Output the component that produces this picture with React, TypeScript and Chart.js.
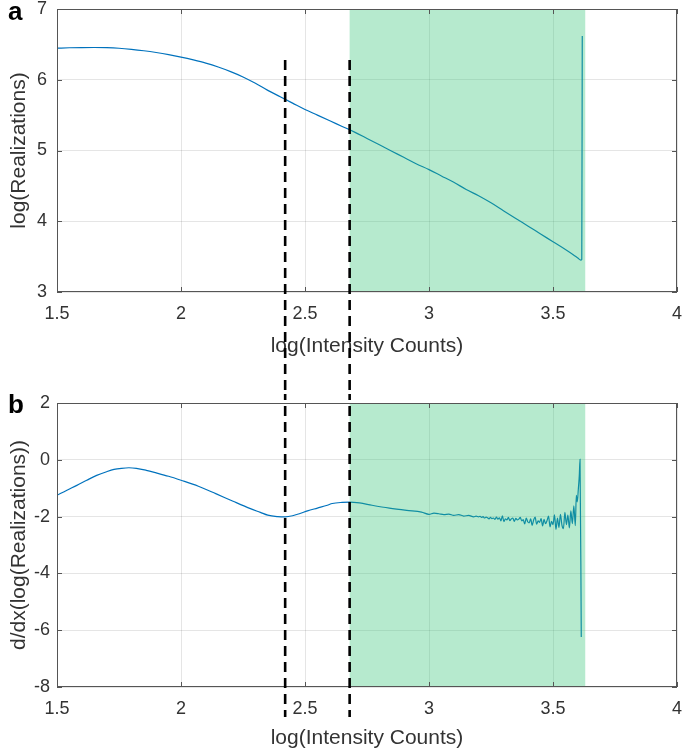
import React, { useEffect, useRef } from "react";
import { Chart, registerables } from "chart.js";

Chart.register(...registerables);

// ---------- data ----------
const panelAX = [1.5, 1.55, 1.6, 1.65, 1.7, 1.75, 1.8, 1.85, 1.9, 1.95, 2.0, 2.05, 2.1, 2.15, 2.2, 2.25, 2.3, 2.35, 2.4, 2.45, 2.5, 2.55, 2.6, 2.65, 2.7, 2.75, 2.8, 2.85, 2.9, 2.95, 3.0, 3.05, 3.1, 3.15, 3.2, 3.25, 3.3, 3.35, 3.4, 3.45, 3.5, 3.55, 3.58, 3.6, 3.612, 3.616, 3.618];
const panelAY = [6.446, 6.452, 6.455, 6.456, 6.453, 6.445, 6.43, 6.41, 6.385, 6.355, 6.32, 6.28, 6.235, 6.18, 6.115, 6.04, 5.95, 5.85, 5.76, 5.67, 5.58, 5.5, 5.42, 5.34, 5.26, 5.17, 5.08, 4.99, 4.9, 4.81, 4.73, 4.64, 4.55, 4.45, 4.36, 4.26, 4.15, 4.04, 3.93, 3.82, 3.71, 3.6, 3.53, 3.48, 3.45, 3.46, 6.62];

const panelBSmoothX = [1.5, 1.54, 1.58, 1.62, 1.66, 1.7, 1.73, 1.76, 1.79, 1.82, 1.86, 1.9, 1.95, 2.0, 2.07, 2.14, 2.21, 2.28, 2.32, 2.35, 2.39, 2.42, 2.45, 2.48, 2.51, 2.55, 2.59, 2.61, 2.65, 2.68, 2.72, 2.77, 2.84, 2.91, 2.97, 3.0, 3.02, 3.04, 3.06, 3.08, 3.1, 3.12, 3.14, 3.16, 3.18, 3.19];
const panelBSmoothY = [-1.25, -1.07, -0.9, -0.72, -0.55, -0.42, -0.34, -0.3, -0.28, -0.3, -0.37, -0.46, -0.58, -0.72, -0.93, -1.19, -1.46, -1.72, -1.85, -1.95, -2.0, -2.01, -1.97, -1.89, -1.8, -1.7, -1.6, -1.54, -1.5, -1.49, -1.52, -1.6, -1.7, -1.78, -1.84, -1.92, -1.88, -1.9, -1.93, -1.91, -1.96, -1.93, -1.98, -1.96, -2.01, -1.98];
const panelBNoisyX = [3.2, 3.206, 3.212, 3.218, 3.224, 3.23, 3.236, 3.242, 3.248, 3.254, 3.26, 3.266, 3.272, 3.278, 3.284, 3.29, 3.296, 3.302, 3.308, 3.314, 3.32, 3.326, 3.332, 3.338, 3.344, 3.35, 3.356, 3.362, 3.368, 3.374, 3.38, 3.386, 3.392, 3.398, 3.404, 3.41, 3.416, 3.422, 3.428, 3.434, 3.44, 3.446, 3.452, 3.458, 3.464, 3.47, 3.476, 3.482, 3.488, 3.494, 3.5, 3.506, 3.512, 3.518, 3.524, 3.53, 3.536, 3.542, 3.548, 3.554, 3.56, 3.566, 3.572, 3.578, 3.584, 3.59, 3.594, 3.598, 3.602, 3.606, 3.609, 3.614];
const panelBNoisyY = [-2.01, -1.99, -2.03, -2.0, -2.05, -2.02, -2.04, -2.08, -2.03, -2.07, -2.05, -2.1, -2.02, -2.09, -2.04, -2.15, -1.97, -2.18, -2.08, -2.12, -2.03, -2.14, -2.08, -2.05, -2.17, -2.06, -2.12, -2.09, -2.03, -2.15, -2.11, -2.26, -2.05, -2.18, -2.22, -2.08, -2.31, -2.12, -2.02, -2.27, -2.15, -2.2, -2.07, -2.33, -2.1, -2.25, -2.14, -1.98, -2.36, -2.17, -2.28, -1.94, -2.45, -2.05, -2.38, -1.92, -2.3, -2.42, -1.85, -2.28, -1.95, -2.4, -1.8, -2.25, -1.62, -2.32, -1.25, -1.48, -1.05, -0.55, 0.02, -6.24];

const xTicks = [1.5, 2, 2.5, 3, 3.5, 4];
const panelAYTicks = [3, 4, 5, 6, 7];
const panelBYTicks = [-8, -6, -4, -2, 0, 2];
const shadeRange = [2.68, 3.63];
const dashedX = [2.42, 2.68];
const dashedTopA = 6.28;

const xTitle = "log(Intensity Counts)";
const panelAYTitle = "log(Realizations)";
const panelBYTitle = "d/dx(log(Realizations))";

// ---------- styling ----------
const FONT = "'Liberation Sans', Arial, Helvetica, sans-serif";
const TEXT = "#333333";

function decorPlugin(kind: "a" | "b") {
  return {
    id: "decor" + kind,
    afterDatasetsDraw(chart: any) {
      const { ctx, chartArea: ca, scales } = chart;
      const x = scales.x;
      const y = scales.y;
      ctx.save();
      const x0 = x.getPixelForValue(shadeRange[0]);
      const x1 = x.getPixelForValue(shadeRange[1]);
      ctx.fillStyle = "rgba(45,195,115,0.35)";
      ctx.fillRect(x0, ca.top, x1 - x0, ca.bottom - ca.top);
      ctx.strokeStyle = "#555555";
      ctx.lineWidth = 1;
      ctx.strokeRect(ca.left + 0.5, ca.top + 0.5, ca.right - ca.left - 1, ca.bottom - ca.top - 1);
      const tl = 5;
      ctx.beginPath();
      for (const v of xTicks) {
        const px = Math.round(x.getPixelForValue(v)) + 0.5;
        ctx.moveTo(px, ca.bottom);
        ctx.lineTo(px, ca.bottom - tl);
        ctx.moveTo(px, ca.top);
        ctx.lineTo(px, ca.top + tl);
      }
      const yt = kind === "a" ? panelAYTicks : panelBYTicks;
      for (const v of yt) {
        const py = Math.round(y.getPixelForValue(v)) + 0.5;
        ctx.moveTo(ca.left, py);
        ctx.lineTo(ca.left + tl, py);
        ctx.moveTo(ca.right, py);
        ctx.lineTo(ca.right - tl, py);
      }
      ctx.stroke();
      ctx.restore();
    },
    afterDraw(chart: any) {
      const { ctx, chartArea: ca, scales } = chart;
      const x = scales.x;
      const y = scales.y;
      ctx.save();
      ctx.strokeStyle = "#000000";
      ctx.lineWidth = 2.6;
      ctx.setLineDash([10, 6]);
      for (const v of dashedX) {
        const px = x.getPixelForValue(v);
        ctx.beginPath();
        if (kind === "a") {
          ctx.moveTo(px, y.getPixelForValue(dashedTopA));
          ctx.lineTo(px, chart.height);
        } else {
          ctx.lineDashOffset = 4;
          ctx.moveTo(px, 0);
          ctx.lineTo(px, ca.bottom + 30);
        }
        ctx.stroke();
      }
      ctx.restore();
    },
  };
}

function zeroPad(s: any) {
  s.paddingTop = 0;
  s.paddingBottom = 0;
  s.paddingLeft = 0;
  s.paddingRight = 0;
}

function makeConfig(kind: "a" | "b") {
  const xs = kind === "a" ? panelAX : panelBSmoothX.concat(panelBNoisyX);
  const ys = kind === "a" ? panelAY : panelBSmoothY.concat(panelBNoisyY);
  const yt = kind === "a" ? panelAYTicks : panelBYTicks;
  const data = xs.map((v, i) => ({ x: v, y: ys[i] }));
  const xAxisHeight = kind === "a" ? 102 : 66;
  const xTitlePad = kind === "a" ? 35 : 2;
  return {
    type: "line" as const,
    data: {
      datasets: [
        {
          data,
          borderColor: "#0072BD",
          borderWidth: 1.2,
          pointRadius: 0,
          fill: false,
          cubicInterpolationMode: "monotone",
        },
      ],
    },
    options: {
      animation: false,
      responsive: false,
      maintainAspectRatio: false,
      layout: { padding: { top: 9, right: 8, left: 0, bottom: 0 } },
      plugins: { legend: { display: false }, tooltip: { enabled: false } },
      scales: {
        x: {
          type: "linear",
          min: xTicks[0],
          max: xTicks[xTicks.length - 1],
          afterBuildTicks: (s: any) => {
            s.ticks = xTicks.map((v) => ({ value: v }));
          },
          afterFit: (s: any) => {
            s.height = xAxisHeight;
            zeroPad(s);
          },
          grid: { color: "rgba(0,0,0,0.1)", drawTicks: false },
          border: { display: false },
          ticks: {
            padding: 11,
            maxRotation: 0,
            autoSkip: false,
            color: TEXT,
            font: { family: FONT, size: 18 },
            callback: (v: any) => String(v),
          },
          title: {
            display: true,
            text: xTitle,
            color: TEXT,
            font: { family: FONT, size: 21 },
            padding: { top: 0, bottom: xTitlePad },
          },
        },
        y: {
          type: "linear",
          min: yt[0],
          max: yt[yt.length - 1],
          afterBuildTicks: (s: any) => {
            s.ticks = yt.map((v) => ({ value: v }));
          },
          afterFit: (s: any) => {
            s.width = 57;
            zeroPad(s);
          },
          grid: { color: "rgba(0,0,0,0.1)", drawTicks: false },
          border: { display: false },
          ticks: {
            padding: kind === "a" ? 10 : 7,
            autoSkip: false,
            color: TEXT,
            font: { family: FONT, size: 18 },
            callback: (v: any) => String(v),
          },
          title: {
            display: true,
            text: kind === "a" ? panelAYTitle : panelBYTitle,
            color: TEXT,
            font: { family: FONT, size: 21 },
            padding: { top: 7, bottom: 0 },
          },
        },
      },
    },
    plugins: [decorPlugin(kind)],
  };
}

function Panel({ kind, top, height }: { kind: "a" | "b"; top: number; height: number }) {
  const ref = useRef<HTMLCanvasElement | null>(null);
  useEffect(() => {
    if (!ref.current) return;
    const chart = new Chart(ref.current, makeConfig(kind) as any);
    return () => chart.destroy();
  }, [kind]);
  return (
    <canvas
      ref={ref}
      width={685}
      height={height}
      style={{ position: "absolute", left: 0, top, width: 685, height }}
    />
  );
}

export default function App() {
  const labelStyle: React.CSSProperties = {
    position: "absolute",
    left: 8,
    fontFamily: FONT,
    fontWeight: "bold",
    fontSize: 26,
    lineHeight: "26px",
    color: "#000",
    zIndex: 2,
  };
  return (
    <div
      style={{
        position: "absolute",
        left: 0,
        top: 0,
        width: 685,
        height: 753,
        background: "#ffffff",
        overflow: "hidden",
      }}
    >
      <Panel kind="a" top={0} height={394} />
      <Panel kind="b" top={394} height={359} />
      <div style={{ ...labelStyle, top: -2 }}>a</div>
      <div style={{ ...labelStyle, top: 391 }}>b</div>
    </div>
  );
}
